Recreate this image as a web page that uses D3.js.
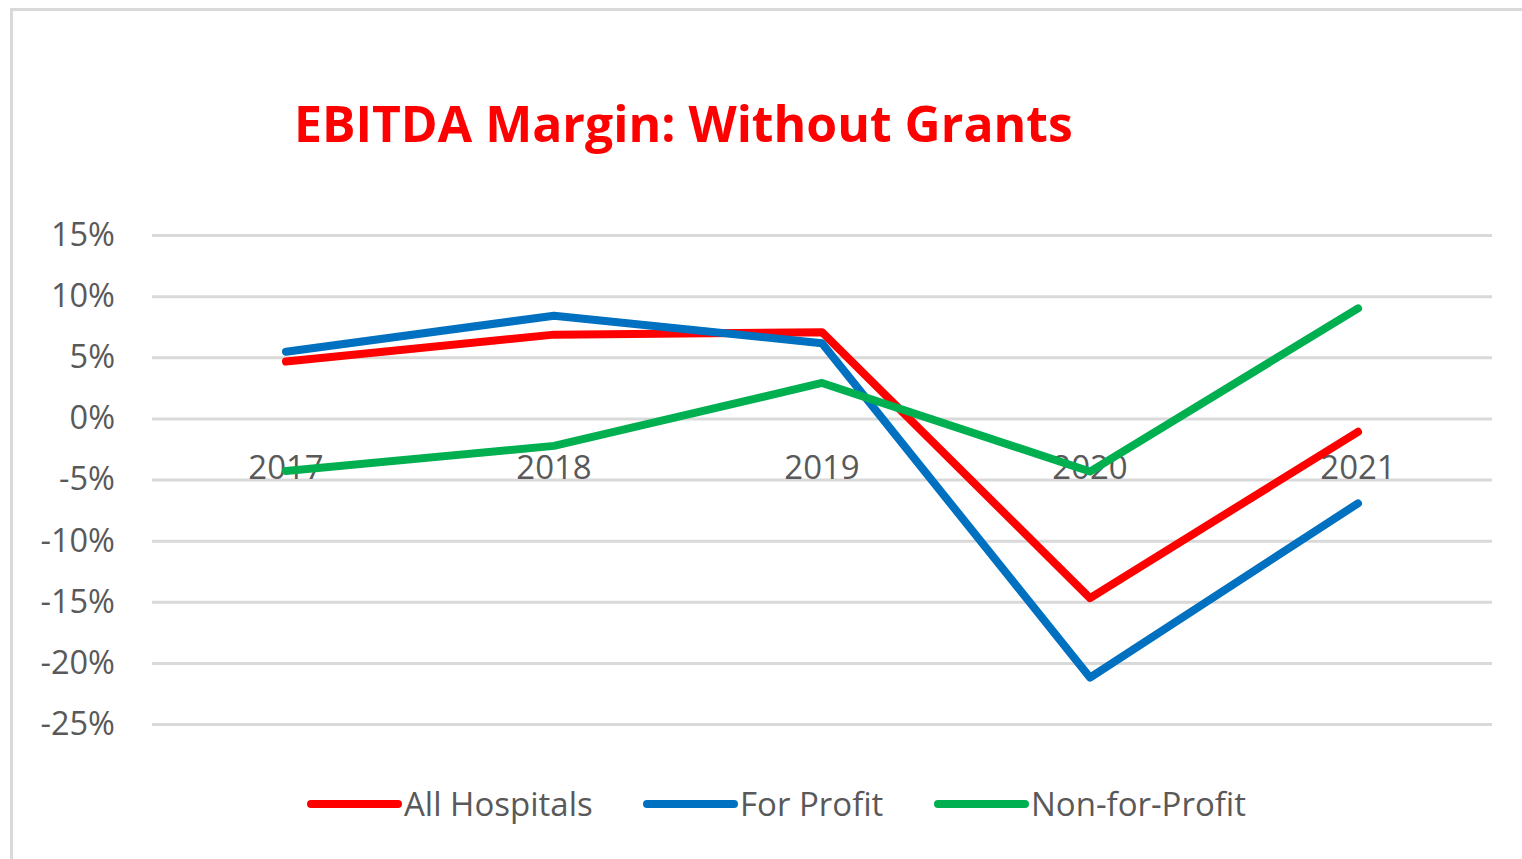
<!DOCTYPE html>
<html>
<head>
<meta charset="utf-8">
<script src="https://cdn.jsdelivr.net/npm/d3@7"></script>
<style>
  html, body { margin: 0; padding: 0; background: #fff; }
  svg { display: block; }
  text { font-family: "Open Sans", "Noto Sans", sans-serif; }
</style>
</head>
<body>
<svg id="chart" width="1522" height="859"></svg>
<script>
const years = ["2017", "2018", "2019", "2020", "2021"];
const allHospitals = [4.65, 6.85, 7.05, -14.7, -1.1];
const forProfit = [5.45, 8.4, 6.15, -21.2, -6.95];
const nonForProfit = [-4.3, -2.25, 2.9, -4.35, 9.0];
const yTicks = [-25, -20, -15, -10, -5, 0, 5, 10, 15];
const seriesNames = ["All Hospitals", "For Profit", "Non-for-Profit"];
const seriesColors = ["#ff0000", "#0070c0", "#00b050"];
const titleText = "EBITDA Margin: Without Grants";

const series = [allHospitals, forProfit, nonForProfit].map((vals, i) => ({
  name: seriesNames[i], color: seriesColors[i],
  values: vals.map((v, j) => ({ year: years[j], value: v }))
}));

const svg = d3.select("#chart");

// outer frame
svg.append("path")
  .attr("d", "M11.5,859 L11.5,9.5 L1522,9.5")
  .attr("fill", "none").attr("stroke", "#d9d9d9").attr("stroke-width", 3);

const left = 152, right = 1492;
const x = d3.scaleBand().domain(years).range([left, right]);
const y = d3.scaleLinear().domain([-25, 15]).range([724, 235]);

// title
const title = svg.append("text")
  .attr("x", 294).attr("y", 142)
  .attr("fill", "#ff0000").attr("font-weight", "bold")
  .attr("font-size", 48).text(titleText);
{
  const w = title.node().getComputedTextLength();
  title.attr("font-size", 48 * 779 / w);
}

// y axis with grid
const yAxis = svg.append("g")
  .attr("transform", `translate(${left},0)`)
  .call(d3.axisLeft(y).tickValues(yTicks).tickFormat(d => d + "%")
    .tickSize(-(right - left)).tickPadding(37));
yAxis.select(".domain").remove();
yAxis.selectAll(".tick line").attr("stroke", "#d9d9d9").attr("stroke-width", 3);
yAxis.selectAll(".tick text")
  .attr("fill", "#595959").attr("font-size", 32.5)
  .style("font-family", "'Open Sans', sans-serif");

// x axis labels
const xAxis = svg.append("g")
  .attr("transform", `translate(0,${y(0)})`)
  .call(d3.axisBottom(x).tickSize(0).tickPadding(37));
xAxis.select(".domain").remove();
xAxis.selectAll(".tick text")
  .attr("fill", "#595959").attr("font-size", 33)
  .style("font-family", "'Open Sans', sans-serif");

// lines
const line = d3.line()
  .x(d => x(d.year) + x.bandwidth() / 2)
  .y(d => y(d.value));

svg.append("g").selectAll("path")
  .data(series).join("path")
  .attr("d", d => line(d.values))
  .attr("fill", "none")
  .attr("stroke", d => d.color)
  .attr("stroke-width", 8)
  .attr("stroke-linecap", "round")
  .attr("stroke-linejoin", "round");

// legend
const legendX = [311, 647, 938];
const lg = svg.append("g").selectAll("g")
  .data(series).join("g")
  .attr("transform", (d, i) => `translate(${legendX[i]},804)`);
lg.append("line")
  .attr("x1", 0).attr("x2", 87).attr("y1", 0).attr("y2", 0)
  .attr("stroke", d => d.color).attr("stroke-width", 8)
  .attr("stroke-linecap", "round");
lg.append("text")
  .attr("x", 93).attr("y", 0).attr("dy", "0.35em")
  .attr("fill", "#595959").attr("font-size", 33)
  .text(d => d.name);
</script>
</body>
</html>
